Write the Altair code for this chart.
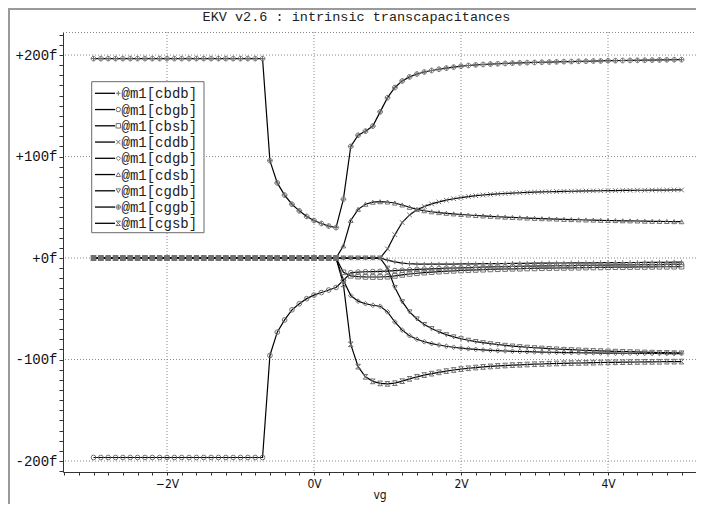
import altair as alt
import pandas as pd

# ---------------- data ----------------
vg = [round(-3 + 0.1 * i, 1) for i in range(81)]   # sweep of the gate voltage

names = ["@m1[cbdb]", "@m1[cbgb]", "@m1[cbsb]", "@m1[cddb]", "@m1[cdgb]",
         "@m1[cdsb]", "@m1[cgdb]", "@m1[cggb]", "@m1[cgsb]"]

cbdb = [0.0] * 40 + [
    -2.0, -3.8, -5.0, -5.6, -5.9, -6.0, -6.0, -6.0, -5.9, -5.9,
    -5.8, -5.7, -5.7, -5.6, -5.5, -5.5, -5.4, -5.3, -5.3, -5.2,
    -5.1, -5.1, -5.0, -4.9, -4.9, -4.8, -4.8, -4.7, -4.7, -4.6,
    -4.6, -4.5, -4.5, -4.4, -4.4, -4.3, -4.3, -4.2, -4.2, -4.1, -4.1]

cbgb = [-196.5] * 24 + [-96, -73, -61, -51, -45, -40, -36.5, -34, -31.5, -29] + [
    -22, -14.5, -13.8, -13.5, -13.3, -13.1, -12.8, -12.4, -12.0, -11.6,
    -11.2, -10.9, -10.6, -10.3, -10.0, -9.8, -9.6, -9.4, -9.2, -9.0,
    -8.8, -8.6, -8.5, -8.3, -8.2, -8.0, -7.9, -7.8, -7.7, -7.6,
    -7.5, -7.4, -7.3, -7.2, -7.1, -7.0, -6.9, -6.8, -6.8, -6.7,
    -6.6, -6.5, -6.5, -6.4, -6.3, -6.3, -6.2]

cbsb = [0.0] * 34 + [
    -14, -17.5, -18.3, -18.6, -18.7, -18.7, -18.4, -17.6, -16.6, -15.7,
    -15.0, -14.4, -13.9, -13.4, -13.0, -12.6, -12.3, -12.0, -11.7, -11.5,
    -11.2, -11.0, -10.8, -10.6, -10.5, -10.3, -10.2, -10.0, -9.9, -9.8,
    -9.7, -9.6, -9.5, -9.4, -9.3, -9.2, -9.1, -9.0, -9.0, -8.9,
    -8.8, -8.8, -8.7, -8.6, -8.6, -8.5, -8.5]

cddb = [0.0] * 40 + [
    9, 23, 35, 42.5, 47.5, 50.8, 53.3, 55.3, 57.0, 58.4,
    59.6, 60.6, 61.4, 62.1, 62.7, 63.2, 63.6, 64.0, 64.3, 64.6,
    64.9, 65.1, 65.3, 65.5, 65.7, 65.8, 66.0, 66.1, 66.2, 66.3,
    66.4, 66.5, 66.6, 66.7, 66.8, 66.8, 66.9, 67.0, 67.0, 67.1, 67.1]

cdgb = [0.0] * 34 + [
    -22, -37, -42.5, -45, -46.5, -47.5, -53, -63, -71, -76.5,
    -80, -82.5, -84.3, -85.7, -86.9, -87.9, -88.7, -89.4, -90.0, -90.5,
    -90.9, -91.3, -91.6, -91.9, -92.1, -92.3, -92.5, -92.7, -92.8, -93.0,
    -93.1, -93.2, -93.3, -93.4, -93.5, -93.6, -93.6, -93.7, -93.8, -93.8,
    -93.9, -93.9, -94.0, -94.0, -94.1, -94.1, -94.2]

cdsb = [0.0] * 34 + [
    12, 37, 48, 53, 55, 55.5, 55.2, 54.2, 52.3, 50,
    48, 46.6, 45.6, 44.8, 44.1, 43.5, 42.9, 42.4, 41.9, 41.5,
    41.1, 40.7, 40.3, 40.0, 39.7, 39.4, 39.1, 38.8, 38.6, 38.4,
    38.1, 37.9, 37.7, 37.5, 37.4, 37.2, 37.0, 36.9, 36.7, 36.6,
    36.5, 36.3, 36.2, 36.1, 36.0, 35.9, 35.8]

cgdb = [0.0] * 40 + [
    -10, -29, -43, -53, -60, -65.5, -69.5, -72.8, -75.5, -77.7,
    -79.5, -81.0, -82.3, -83.4, -84.4, -85.2, -86.0, -86.7, -87.3, -87.9,
    -88.4, -88.8, -89.2, -89.6, -90.0, -90.3, -90.6, -90.9, -91.2, -91.4,
    -91.7, -91.9, -92.1, -92.3, -92.5, -92.7, -92.9, -93.1, -93.2, -93.4, -93.5]

cggb = [196.5] * 24 + [96, 74, 62, 53, 46.5, 41, 37, 34, 31.5, 30] + [
    58, 110, 121, 125, 130, 144, 158, 168, 174.5, 178.5,
    181.3, 183.3, 184.8, 186, 187.1, 188.1, 189.0, 189.7, 190.3, 190.7,
    191.1, 191.4, 191.7, 192.0, 192.3, 192.5, 192.7, 192.9, 193.1, 193.3,
    193.5, 193.6, 193.8, 193.9, 194.1, 194.2, 194.4, 194.5, 194.6, 194.7,
    194.8, 194.9, 195.0, 195.2, 195.3, 195.4, 195.5]

cgsb = [0.0] * 34 + [
    -26, -85, -107, -117, -121.5, -123.5, -124, -123.3, -121.3, -119,
    -117, -115.3, -113.9, -112.6, -111.4, -110.3, -109.4, -108.6, -107.9, -107.3,
    -106.8, -106.3, -105.9, -105.5, -105.2, -104.9, -104.6, -104.4, -104.1, -103.9,
    -103.7, -103.5, -103.4, -103.2, -103.1, -102.9, -102.8, -102.7, -102.6, -102.5,
    -102.4, -102.3, -102.3, -102.2, -102.1, -102.1, -102.0]

series = [cbdb, cbgb, cbsb, cddb, cdgb, cdsb, cgdb, cggb, cgsb]
for s in series:
    assert len(s) == len(vg), len(s)

x_major = [-2, 0, 2, 4]
y_major = [-200, -100, 0, 100, 200]
x_ticks = [round(-3.4 + 0.2 * k, 1) for k in range(44)]
y_ticks = [-210 + 10 * k for k in range(44)]

# ---------------- layout / style ----------------
W, H = 633, 440
X_DOM = [-3.415, 5.197]
Y_DOM = [-210.8, 222.7]
MONO = "Liberation Mono"
SANS = "Liberation Sans Narrow, DejaVu Sans Condensed, Liberation Sans"

shape_paths = [
    "M-1,0L1,0M0,-1L0,1",                                   # +
    "circle",                                               # o
    "square",                                               # square
    "M-1,-1L1,1M-1,1L1,-1",                                 # x
    "diamond",                                              # diamond
    "triangle-up",
    "triangle-down",
    "M-1,0A1,1,0,1,1,1,0A1,1,0,1,1,-1,0ZM-1,0L1,0M0,-1L0,1",  # circle-plus
    "M-1,-1L1,-1L-1,1L1,1Z",                                # hourglass
]
shape_scale = alt.Scale(domain=names, range=shape_paths)

rows = []
for name, vals in zip(names, series):
    for v, c in zip(vg, vals):
        rows.append({"vg": v, "val": c, "series": name})
df = pd.DataFrame(rows)

xs = alt.Scale(domain=X_DOM, nice=False, zero=False)
ys = alt.Scale(domain=Y_DOM, nice=False, zero=False)

x_axis = alt.Axis(
    values=x_ticks, title="vg", grid=False, tickSize=3, labelPadding=3,
    labelFont=SANS, labelFontSize=12, titleFont=SANS, titleFontSize=12,
    titleFontWeight="normal", titlePadding=0, labelOverlap=False,
    labelExpr="abs(datum.value % 2) < 0.001 ? format(datum.value, 'd') + 'V' : ''",
)
y_axis = alt.Axis(
    values=y_ticks, title=None, grid=False, tickSize=4, labelPadding=2,
    labelFont=MONO, labelFontSize=14, labelOverlap=False,
    labelExpr="datum.value % 100 === 0 ? (datum.value >= 0 ? '+' : '-') + abs(datum.value) + 'f' : ''",
)

gx = alt.Chart(pd.DataFrame({"vg": x_major})).mark_rule(
    color="#8a8a8a", strokeDash=[1, 2], strokeWidth=1
).encode(x=alt.X("vg:Q", scale=xs, axis=x_axis))

gy = alt.Chart(pd.DataFrame({"val": y_major})).mark_rule(
    color="#8a8a8a", strokeDash=[1, 2], strokeWidth=1
).encode(y=alt.Y("val:Q", scale=ys, axis=y_axis))

top_border = alt.Chart(pd.DataFrame({"a": [0]})).mark_rule(
    color="#8a8a8a", strokeDash=[1, 2], strokeWidth=1
).encode(x=alt.value(0), x2=alt.value(W), y=alt.value(0.5))

lines = alt.Chart(df).mark_line(color="black", strokeWidth=1.2).encode(
    x=alt.X("vg:Q", scale=xs, axis=x_axis),
    y=alt.Y("val:Q", scale=ys, axis=y_axis),
    detail="series:N",
    order="vg:Q",
)

points = alt.Chart(df).mark_point(
    filled=False, color="#707070", size=22, strokeWidth=1, opacity=1
).encode(
    x=alt.X("vg:Q", scale=xs, axis=x_axis),
    y=alt.Y("val:Q", scale=ys, axis=y_axis),
    shape=alt.Shape("series:N", scale=shape_scale, legend=None),
)

# ---------------- custom legend (pixel layout) ----------------
LEG_X0, LEG_X1, LEG_Y0, LEG_Y1 = 28.7, 141, 49.7, 200.7
ROW_Y0, ROW_DY = 61.3, 16.25
leg = pd.DataFrame({"series": names, "row": list(range(len(names)))})
leg["ly"] = ROW_Y0 + leg["row"] * ROW_DY
leg["lx0"] = 32.0
leg["lx1"] = 52.0
leg["mx"] = 55.3
leg["tx"] = 58.5

box = alt.Chart(pd.DataFrame({"a": [0]})).mark_rect(
    fill="white", stroke="#6a6a6a", strokeWidth=1
).encode(x=alt.value(LEG_X0), x2=alt.value(LEG_X1), y=alt.value(LEG_Y0), y2=alt.value(LEG_Y1))

leg_lines = alt.Chart(leg).mark_rule(color="black", strokeWidth=1.3).encode(
    x=alt.X("lx0:Q", scale=None, axis=None),
    x2="lx1:Q",
    y=alt.Y("ly:Q", scale=None, axis=None),
)
leg_pts = alt.Chart(leg).mark_point(
    filled=False, color="#707070", size=20, strokeWidth=1, opacity=1
).encode(
    x=alt.X("mx:Q", scale=None, axis=None),
    y=alt.Y("ly:Q", scale=None, axis=None),
    shape=alt.Shape("series:N", scale=shape_scale, legend=None),
)
leg_txt = alt.Chart(leg).mark_text(
    align="left", baseline="middle", font=MONO, fontSize=14, color="#222", dy=1
).encode(
    x=alt.X("tx:Q", scale=None, axis=None),
    y=alt.Y("ly:Q", scale=None, axis=None),
    text="series:N",
)

# window frame (grey border of the original screenshot)
frame_left = alt.Chart(pd.DataFrame({"a": [0]})).mark_rule(color="#9a9a9a", strokeWidth=2).encode(
    x=alt.value(-54), y=alt.value(-24), y2=alt.value(H + 32))
frame_top = alt.Chart(pd.DataFrame({"a": [0]})).mark_rule(color="#9a9a9a", strokeWidth=2).encode(
    x=alt.value(-55), x2=alt.value(W), y=alt.value(-23))

chart = alt.layer(
    gx, gy, top_border, lines, points, box, leg_lines, leg_pts, leg_txt, frame_left, frame_top
).properties(
    width=W, height=H,
    autosize=alt.AutoSizeParams(type="none"),
    padding={"left": 55, "top": 24, "right": 0, "bottom": 32},
    title=alt.TitleParams(
        "EKV v2.6 : intrinsic transcapacitances", font=MONO, fontSize=13.5,
        fontWeight="normal", color="#222", anchor="middle", dx=-23, dy=25, offset=9,
    ),
    background="white",
).configure_view(stroke=None).configure_axis(
    domainColor="#333", tickColor="#333", labelColor="#111", titleColor="#111",
    domainWidth=1, tickWidth=1,
)

chart.save("out.html", embed_options={"renderer": "svg", "actions": False})
